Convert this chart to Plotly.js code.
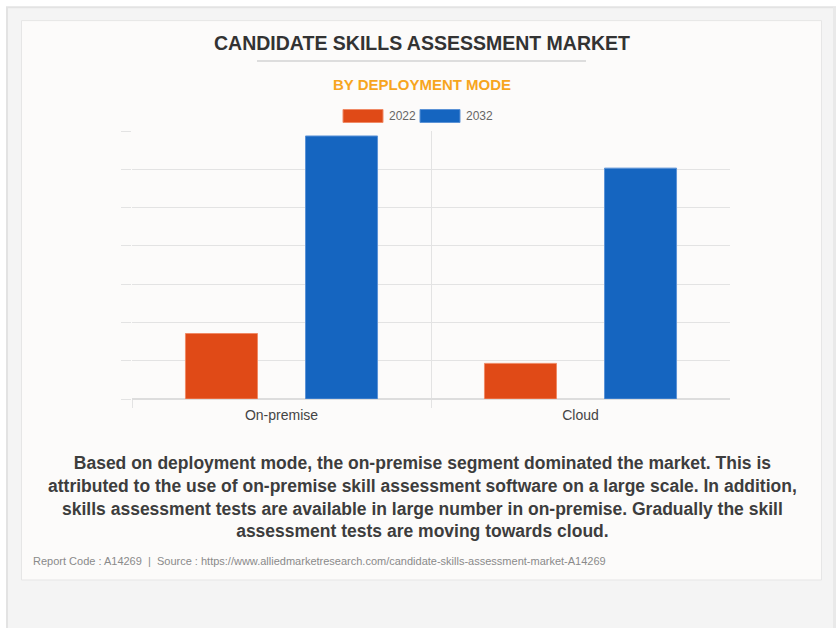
<!DOCTYPE html>
<html>
<head>
<meta charset="utf-8">
<script src="https://cdn.plot.ly/plotly-3.0.1.min.js"></script>
<style>
html,body{margin:0;padding:0;background:#fff;}
#chart{width:836px;height:628px;}
</style>
</head>
<body>
<div id="chart"></div>
<script>
// ---- data ----
const categories = ['On-premise', 'Cloud'];
const seriesNames = ['2022', '2032'];
const values2022 = [1.71, 0.93];
const values2032 = [6.87, 6.03];
const gridBoundaries = [-0.5, 0.5];

const titleText = 'CANDIDATE SKILLS ASSESSMENT MARKET';
const subtitleText = 'BY DEPLOYMENT MODE';
const descText = 'Based on deployment mode, the on-premise segment dominated the market. This is<br>' +
  'attributed to the use of on-premise skill assessment software on a large scale. In addition,<br>' +
  'skills assessment tests are available in large number in on-premise. Gradually the skill<br>' +
  'assessment tests are moving towards cloud.';
const footerText = 'Report Code : A14269  |  Source : https://www.alliedmarketresearch.com/candidate-skills-assessment-market-A14269';

// ---- styling ----
const colors = ['#E04A17', '#1565C0'];
const borderColors = ['#F08A66', '#5C93D6'];
const gridColor = '#E3E3E3';
const FONT = 'Liberation Sans, Arial, sans-serif';

// plot area in pixels
const L = 132, R = 730, T = 131, B = 399.3, W = 836, H = 628;
const px = x => (x - L) / (R - L);
const py = y => (B - y) / (B - T);

const traces = [
  {type: 'bar', name: seriesNames[0], x: categories, y: values2022,
   marker: {color: colors[0], line: {color: borderColors[0], width: 1}}, hoverinfo: 'x+y'},
  {type: 'bar', name: seriesNames[1], x: categories, y: values2032,
   marker: {color: colors[1], line: {color: borderColors[1], width: 1}}, hoverinfo: 'x+y'},
  {type: 'scatter', x: [], y: [], xaxis: 'x2', yaxis: 'y', showlegend: false, hoverinfo: 'skip'}
];

const shapes = [
  // outer gray frame
  {type: 'rect', xref: 'paper', yref: 'paper', layer: 'below',
   x0: px(7), x1: px(840), y0: py(7), y1: py(640),
   fillcolor: '#F4F4F4', line: {color: '#E3E3E3', width: 2}},
  // right darker strip
  {type: 'rect', xref: 'paper', yref: 'paper', layer: 'below',
   x0: px(833), x1: px(837), y0: py(7), y1: py(640),
   fillcolor: '#E9E9E9', line: {width: 0}},
  // white card
  {type: 'rect', xref: 'paper', yref: 'paper', layer: 'below',
   x0: px(21.5), x1: px(821.5), y0: py(20.5), y1: py(580.5),
   fillcolor: '#FCFBFA', line: {color: '#E6E6E6', width: 1}},
  // title underline
  {type: 'line', xref: 'paper', yref: 'paper', layer: 'below',
   x0: px(257), x1: px(586), y0: py(61), y1: py(61),
   line: {color: '#DDDDDD', width: 2}}
];

const annotations = [
  {text: '<b>' + titleText + '</b>', xref: 'paper', yref: 'paper', x: px(422), y: py(43),
   xanchor: 'center', yanchor: 'middle', showarrow: false,
   font: {family: FONT, size: 19.5, color: '#333333'}},
  {text: '<b>' + subtitleText + '</b>', xref: 'paper', yref: 'paper', x: px(422), y: py(84),
   xanchor: 'center', yanchor: 'middle', showarrow: false,
   font: {family: FONT, size: 15, color: '#F7A51E'}},
  {text: '<b>' + descText + '</b>', xref: 'paper', yref: 'paper', x: px(422), y: py(497.5),
   xanchor: 'center', yanchor: 'middle', align: 'center', showarrow: false,
   font: {family: FONT, size: 17.5, color: '#3D3D3D'}},
  {text: footerText, xref: 'paper', yref: 'paper', x: px(31), y: py(561),
   xanchor: 'left', yanchor: 'middle', showarrow: false,
   font: {family: FONT, size: 11, color: '#8A8A8A'}}
];

// custom legend built from series arrays
const legendStarts = [343, 420];
seriesNames.forEach((name, i) => {
  shapes.push({type: 'rect', xref: 'paper', yref: 'paper',
    x0: px(legendStarts[i]), x1: px(legendStarts[i] + 40), y0: py(109.5), y1: py(122.5),
    fillcolor: colors[i], line: {color: borderColors[i], width: 1}});
  annotations.push({text: name, xref: 'paper', yref: 'paper', x: px(legendStarts[i] + 44), y: py(116),
    xanchor: 'left', yanchor: 'middle', showarrow: false,
    font: {family: FONT, size: 12, color: '#666666'}});
});

const layout = {
  width: W, height: H,
  margin: {l: L, r: W - R, t: T, b: H - B, pad: 0},
  paper_bgcolor: '#FFFFFF',
  plot_bgcolor: 'rgba(0,0,0,0)',
  showlegend: false,
  barmode: 'group',
  bargap: 0.197,
  bargroupgap: 0.4,
  font: {family: FONT},
  xaxis: {
    type: 'category', showgrid: false, zeroline: false, showline: false,
    ticks: '', ticklabelstandoff: 6,
    tickfont: {family: FONT, size: 14, color: '#444444'},
    fixedrange: true
  },
  xaxis2: {
    overlaying: 'x', type: 'linear', range: [-0.5, 1.5],
    tickmode: 'array', tickvals: gridBoundaries, showticklabels: false,
    showgrid: true, gridcolor: gridColor, gridwidth: 1,
    ticks: 'outside', ticklen: 8, tickcolor: gridColor, tickwidth: 1,
    zeroline: false, showline: false, side: 'bottom', fixedrange: true
  },
  yaxis: {
    range: [0, 7], dtick: 1, showticklabels: false,
    showgrid: true, gridcolor: gridColor, gridwidth: 1,
    ticks: 'outside', ticklen: 10, tickcolor: gridColor, tickwidth: 1,
    zeroline: true, zerolinecolor: '#DDDDDD', zerolinewidth: 1.5,
    showline: false, fixedrange: true
  },
  shapes: shapes,
  annotations: annotations
};

Plotly.newPlot('chart', traces, layout, {displayModeBar: false, staticPlot: true});
</script>
</body>
</html>
